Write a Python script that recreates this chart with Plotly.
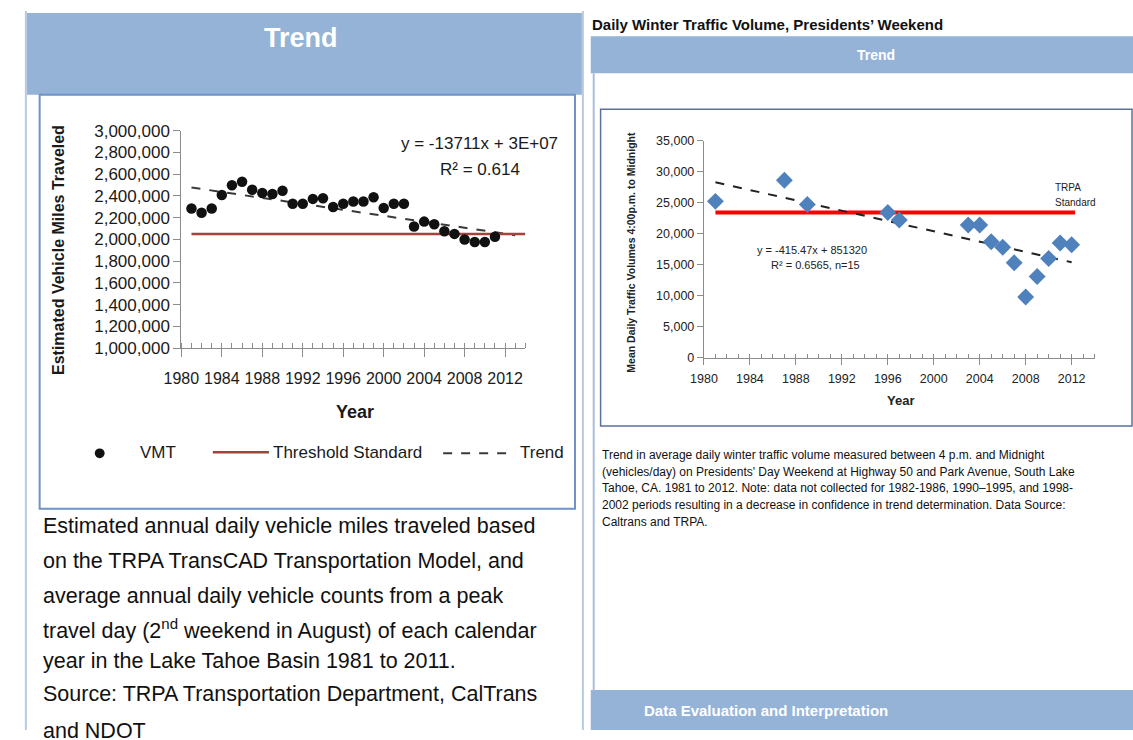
import plotly.graph_objects as go

W, H = 1133, 740

# ---------------- Left chart data (VMT) ----------------
vmt_years = list(range(1981, 2012))
vmt_values = [2284000, 2245000, 2284000, 2409000, 2499000, 2531000, 2457000, 2427000,
              2418000, 2448000, 2328000, 2328000, 2373000, 2379000, 2299000, 2328000,
              2349000, 2349000, 2388000, 2290000, 2328000, 2328000, 2119000, 2164000,
              2140000, 2075000, 2051000, 2000000, 1976000, 1976000, 2024000]
vmt_threshold = 2050000
vmt_threshold_years = [1981, 2014]
vmt_trend_slope = -13711
vmt_trend_intercept = 29639491
vmt_trend_years = [1981, 2013]
vmt_yticks = [1000000 + 200000 * i for i in range(11)]
vmt_xticks = [1980, 1984, 1988, 1992, 1996, 2000, 2004, 2008, 2012]

# ---------------- Right chart data (Presidents' Weekend) ----------------
winter_years = [1981, 1987, 1989, 1996, 1997, 2003, 2004, 2005, 2006, 2007, 2008, 2009, 2010, 2011, 2012]
winter_volumes = [25200, 28600, 24700, 23400, 22200, 21400, 21400, 18700, 17800, 15300,
                  9800, 13100, 16000, 18500, 18200]
trpa_standard = 23400
trpa_standard_years = [1981, 2012.3]
winter_trend_slope = -415.47
winter_trend_intercept = 851320
winter_trend_years = [1981, 2012]
winter_yticks = [0, 5000, 10000, 15000, 20000, 25000, 30000, 35000]
winter_xticks = [1980, 1984, 1988, 1992, 1996, 2000, 2004, 2008, 2012]


def px(x):
    return x / W


def py(y):
    return 1 - y / H


BLUE = "#95B3D7"
SANS = "Liberation Sans, Arial, sans-serif"

fig = go.Figure()

# Left chart traces
fig.add_trace(go.Scatter(
    x=vmt_trend_years,
    y=[vmt_trend_slope * x + vmt_trend_intercept for x in vmt_trend_years],
    mode="lines", line=dict(color="#3a3a3a", width=2, dash="dash"),
    xaxis="x", yaxis="y", showlegend=False, hoverinfo="skip"))
fig.add_trace(go.Scatter(
    x=vmt_threshold_years, y=[vmt_threshold] * len(vmt_threshold_years),
    mode="lines", line=dict(color="#A5423D", width=2.5),
    xaxis="x", yaxis="y", showlegend=False))
fig.add_trace(go.Scatter(
    x=vmt_years, y=vmt_values, mode="markers",
    marker=dict(color="#111111", size=10.5),
    xaxis="x", yaxis="y", showlegend=False))

# Right chart traces
fig.add_trace(go.Scatter(
    x=trpa_standard_years, y=[trpa_standard] * len(trpa_standard_years),
    mode="lines", line=dict(color="#FF0000", width=4),
    xaxis="x2", yaxis="y2", showlegend=False))
fig.add_trace(go.Scatter(
    x=winter_trend_years,
    y=[winter_trend_slope * x + winter_trend_intercept for x in winter_trend_years],
    mode="lines", line=dict(color="#222222", width=2, dash="dash"),
    xaxis="x2", yaxis="y2", showlegend=False))
fig.add_trace(go.Scatter(
    x=winter_years, y=winter_volumes, mode="markers",
    marker=dict(color="#4F81BD", size=13, symbol="diamond"),
    xaxis="x2", yaxis="y2", showlegend=False))

axis_common = dict(showgrid=False, zeroline=False, showline=True, linecolor="#8c8c8c",
                   linewidth=1.2, tickcolor="#8c8c8c")

# ---------------- Shapes (panels / frames / legend) ----------------
shapes = []
shapes.append(dict(type="line", xref="paper", yref="paper", x0=px(8), x1=px(8), y0=py(2), y1=py(740),
                   line=dict(color="#B8C9E0", width=2)))
shapes.append(dict(type="line", xref="paper", yref="paper", x0=px(574), x1=px(574), y0=py(2), y1=py(740),
                   line=dict(color="#B8C9E0", width=2)))
shapes.append(dict(type="rect", xref="paper", yref="paper", x0=px(9), x1=px(573), y0=py(4), y1=py(88),
                   fillcolor=BLUE, line=dict(width=0), layer="below"))
shapes.append(dict(type="rect", xref="paper", yref="paper", x0=px(22), x1=px(566), y0=py(88), y1=py(513),
                   fillcolor="white", line=dict(color="#6F93C6", width=2), layer="below"))
shapes.append(dict(type="rect", xref="paper", yref="paper", x0=px(582), x1=px(1133), y0=py(28), y1=py(66),
                   fillcolor=BLUE, line=dict(width=0), layer="below"))
shapes.append(dict(type="line", xref="paper", yref="paper", x0=px(585), x1=px(585), y0=py(66), y1=py(700),
                   line=dict(color="#A9BEDC", width=2)))
shapes.append(dict(type="rect", xref="paper", yref="paper", x0=px(582), x1=px(1133), y0=py(699), y1=py(740),
                   fillcolor=BLUE, line=dict(width=0), layer="below"))
shapes.append(dict(type="rect", xref="paper", yref="paper", x0=px(592), x1=px(1132), y0=py(103), y1=py(428),
                   fillcolor="rgba(0,0,0,0)", line=dict(color="#5B7199", width=1.5), layer="below"))
# left legend symbols
shapes.append(dict(type="circle", xref="paper", yref="paper", x0=px(78), x1=px(88), y0=py(451), y1=py(461),
                   fillcolor="#111111", line=dict(width=0)))
shapes.append(dict(type="line", xref="paper", yref="paper", x0=px(198), x1=px(255), y0=py(455), y1=py(455),
                   line=dict(color="#A5423D", width=2.5)))
shapes.append(dict(type="line", xref="paper", yref="paper", x0=px(432), x1=px(500), y0=py(456), y1=py(456),
                   line=dict(color="#3a3a3a", width=2, dash="dash")))

# ---------------- Annotations ----------------
ann = []


def text(x, y, s, size, color="#111111", family=SANS, xanchor="left", bold=False, angle=0):
    if bold:
        s = "<b>" + s + "</b>"
    ann.append(dict(x=px(x), y=py(y), xref="paper", yref="paper", text=s, showarrow=False,
                    xanchor=xanchor, yanchor="middle", textangle=angle,
                    font=dict(size=size, color=color, family=family)))


# Left panel
text(288, 30, "Trend", 27, "white", SANS, "center", True)
text(41, 247, "Estimated Vehicle Miles Traveled", 16, "#1a1a1a", SANS, "center", True, -90)
text(342, 414, "Year", 18, "#1a1a1a", SANS, "center", True)
text(469, 138, "y = -13711x + 3E+07", 17, "#1a1a1a", SANS, "center")
text(469, 165, "R² = 0.614", 17, "#1a1a1a", SANS, "center")
text(122, 455, "VMT", 17, "#1a1a1a", SANS)
text(257, 455, "Threshold Standard", 17, "#1a1a1a", SANS)
text(508, 455, "Trend", 17, "#1a1a1a", SANS)

left_caption = [
    "Estimated annual daily vehicle miles traveled based",
    "on the TRPA TransCAD Transportation Model, and",
    "average annual daily vehicle counts from a peak",
    "travel day (2<sup>nd</sup> weekend in August) of each calendar",
    "year in the Lake Tahoe Basin 1981 to 2011.",
    "Source: TRPA Transportation Department, CalTrans",
    "and NDOT",
]
left_caption_y = [531, 567, 602, 636, 669, 703, 741]
for s, yy in zip(left_caption, left_caption_y):
    text(23, yy, s, 21.5, "#111111", SANS)

# Right panel
text(581, 16, "Daily Winter Traffic Volume, Presidents’ Weekend", 15, "#111111", SANS, "left", True)
text(872, 47, "Trend", 14, "white", SANS, "center", True)
text(634, 720, "Data Evaluation and Interpretation", 15, "white", SANS, "left", True)
text(622, 250, "Mean Daily Traffic Volumes 4:00p.m. to Midnight", 10.5, "#222222", SANS, "center", True, -90)
text(897, 402, "Year", 13, "#222222", SANS, "center", True)
text(807, 247, "y = -415.47x + 851320", 11, "#222222", SANS, "center")
text(810, 263, "R² = 0.6565, n=15", 11, "#222222", SANS, "center")
text(1052, 183, "TRPA", 10, "#222222", SANS, "left")
text(1052, 199, "Standard", 10, "#222222", SANS, "left")

right_caption = [
    "Trend in average daily winter traffic volume measured between 4 p.m. and Midnight",
    "(vehicles/day) on Presidents' Day Weekend at Highway 50 and Park Avenue, South Lake",
    "Tahoe, CA. 1981 to 2012. Note: data not collected for 1982-1986, 1990–1995, and 1998-",
    "2002 periods resulting in a decrease in confidence in trend determination. Data Source:",
    "Caltrans and TRPA.",
]
right_caption_y = [458, 475, 492, 509, 527]
for s, yy in zip(right_caption, right_caption_y):
    text(591, yy, s, 12, "#111111", SANS)

fig.update_layout(
    width=W, height=H, margin=dict(l=0, r=0, t=0, b=0),
    paper_bgcolor="white", plot_bgcolor="rgba(0,0,0,0)",
    showlegend=False,
    xaxis=dict(domain=[px(166), px(515.5)], range=[1980, 2014], anchor="y",
               tickvals=vmt_xticks, ticktext=[str(v) for v in vmt_xticks],
               ticks="outside", ticklen=8, ticklabelstandoff=8,
               minor=dict(dtick=1, tick0=1980, ticks="inside", ticklen=5, tickcolor="#8c8c8c"),
               tickfont=dict(size=16, color="#1a1a1a", family=SANS), **axis_common),
    yaxis=dict(domain=[py(348), py(125)], range=[1000000, 3000000], anchor="x",
               tickvals=vmt_yticks, ticktext=[f"{v:,}" for v in vmt_yticks],
               ticks="outside", ticklen=7,
               tickfont=dict(size=17, color="#1a1a1a", family=SANS), **axis_common),
    xaxis2=dict(domain=[px(697), px(1094)], range=[1980, 2014], anchor="y2",
                tickvals=winter_xticks, ticktext=[str(v) for v in winter_xticks],
                ticks="outside", ticklen=6, ticklabelstandoff=3,
                minor=dict(dtick=1, tick0=1980, ticks="inside", ticklen=4, tickcolor="#8c8c8c"),
                tickfont=dict(size=12.5, color="#222222", family=SANS), **axis_common),
    yaxis2=dict(domain=[py(358), py(135)], range=[0, 35000], anchor="x2",
                tickvals=winter_yticks, ticktext=[f"{v:,}" for v in winter_yticks],
                ticks="outside", ticklen=6,
                tickfont=dict(size=12.5, color="#222222", family=SANS), **axis_common),
    shapes=shapes,
    annotations=ann,
)

fig.write_html("out.html", config={"displayModeBar": False},
               post_script="document.body.style.margin='0';document.body.style.overflow='hidden';")
